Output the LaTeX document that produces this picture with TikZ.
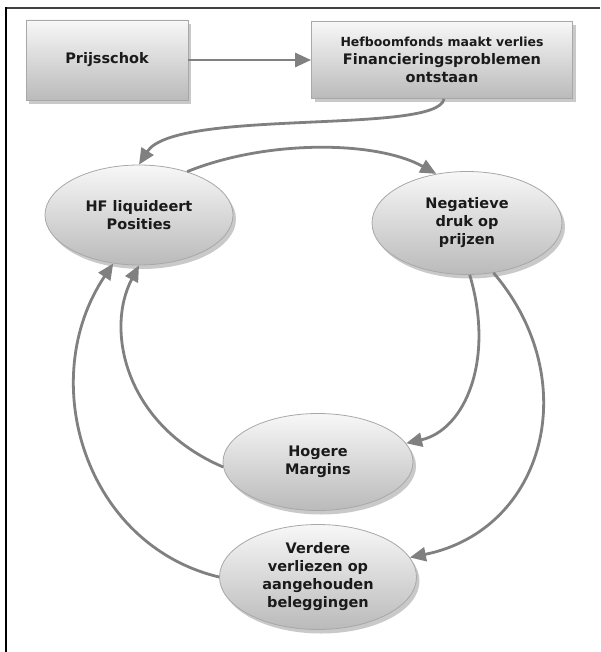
\documentclass[tikz,border=0pt]{standalone}
\usepackage{fontspec}
\setmainfont{DejaVu Sans}
\usetikzlibrary{arrows.meta,shapes.geometric,shadows}
\definecolor{txt}{HTML}{1A1A1A}
\definecolor{arr}{HTML}{808080}
\definecolor{edge}{HTML}{A8A8A8}
\tikzset{
  shade3d/.style={top color=white!97!black, bottom color=black!27, draw=edge, line width=0.8pt,
    drop shadow={shadow xshift=3pt, shadow yshift=-4pt, opacity=0.35, fill=black!60}},
  boxnode/.style={shade3d, rectangle, align=center, text=txt, font=\bfseries\fontsize{14.5}{18}\selectfont},
  ellnode/.style={shade3d, ellipse, align=center, text=txt, inner sep=0pt, font=\bfseries\fontsize{14.5}{18}\selectfont},
  conn/.style={arr, line width=2.8pt, -{Triangle[length=16pt,width=14pt]}},
}
\begin{document}
\begin{tikzpicture}[x=1pt,y=-1pt]
\useasboundingbox (0,0) rectangle (600,652);
\fill[white] (0,0) rectangle (600,652);
\draw[black!75, line width=2pt] (6,8) -- (600,8);
\draw[black, line width=1.2pt] (6,7) -- (6,652);

\node[boxnode, minimum width=162pt, minimum height=80pt] (p1) at (107,60) {Prijsschok};
\node[boxnode, minimum width=261pt, minimum height=77pt] (p2) at (442,60)
  {{\fontsize{12.5}{16}\selectfont Hefboomfonds maakt verlies}\\Financieringsproblemen\\ontstaan};

\node[ellnode, minimum width=188pt, minimum height=100pt] (hf) at (139,215) {HF liquideert\\Posities};
\node[ellnode, minimum width=190pt, minimum height=103pt] (neg) at (467,223) {Negatieve\\druk op\\prijzen};
\node[ellnode, minimum width=190pt, minimum height=97pt] (hog) at (318,462) {Hogere\\Margins};
\node[ellnode, minimum width=197pt, minimum height=105pt] (ver) at (318,577) {Verdere\\verliezen op\\aangehouden\\beleggingen};

\draw[conn] (p1.east) -- (p2.west);
\draw[conn] (p2.south) ++(2,0) coordinate (s1) (s1) .. controls (438,135) and (175,108) .. (hf.north);
\draw[conn] (hf.42) .. controls (265,140) and (375,140) .. (neg.122);
\draw[conn] (neg.-87) .. controls (495,360) and (465,430) .. (hog.12);
\draw[conn] (neg.-62) .. controls (585,380) and (545,530) .. (ver.12);
\draw[conn] (hog.183) .. controls (125,425) and (105,330) .. (hf.-90);
\draw[conn] (ver.180) .. controls (85,545) and (35,380) .. (hf.-118);
\end{tikzpicture}
\end{document}
